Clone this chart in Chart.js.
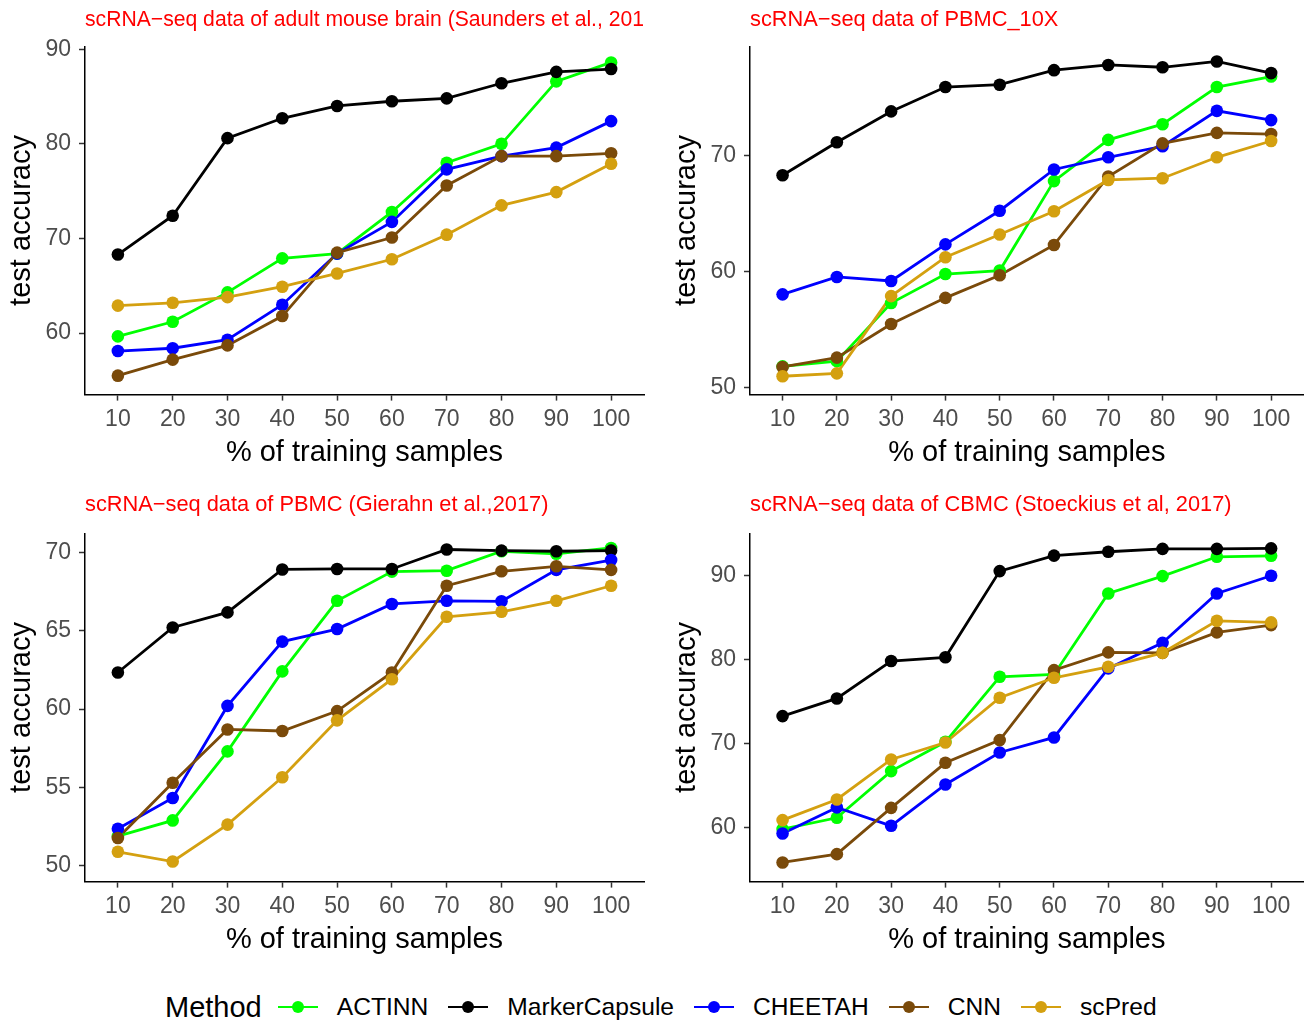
<!DOCTYPE html>
<html>
<head>
<meta charset="utf-8">
<script src="https://cdn.jsdelivr.net/npm/chart.js@4.4.1/dist/chart.umd.min.js"></script>
<style>
  body { margin: 0; background: #fff; width: 1310px; height: 1021px; position: relative; overflow: hidden;
         font-family: "Liberation Sans", Arial, sans-serif; }
  .panel { position: absolute; }
  .legend { position: absolute; left: 165px; top: 987px; height: 40px; display: flex; align-items: center; }
  .legend .head { font-size: 29px; color: #000; margin-right: 0; }
  .legend .key { position: relative; width: 40px; height: 40px; margin-left: 20px; }
  .legend .key.first { margin-left: 16px; }
  .legend .key .ln { position: absolute; left: 0; right: 0; top: 18.6px; height: 2.8px; }
  .legend .key .dot { position: absolute; left: 14px; top: 14px; width: 12px; height: 12px; border-radius: 50%; }
  .legend .lab { font-size: 24.6px; color: #000; margin-left: 19px; }
</style>
</head>
<body>
<div class="panel" style="left:0;top:0;width:655px;height:472px"><canvas id="p1"></canvas></div>
<div class="panel" style="left:665px;top:0;width:645px;height:472px"><canvas id="p2"></canvas></div>
<div class="panel" style="left:0;top:485px;width:655px;height:474px"><canvas id="p3"></canvas></div>
<div class="panel" style="left:665px;top:485px;width:645px;height:474px"><canvas id="p4"></canvas></div>
<div class="legend" id="legend"></div>
<script>
const xValues = [10, 20, 30, 40, 50, 60, 70, 80, 90, 100];
const methods = ["ACTINN", "MarkerCapsule", "CHEETAH", "CNN", "scPred"];
const colors = ["#00FF00", "#000000", "#0000FF", "#7A4A0A", "#D4A010"];

// adult mouse brain
const brainActinn = [59.65, 61.2, 64.3, 67.9, 68.4, 72.8, 78.0, 80.0, 86.6, 88.6];
const brainMarker = [68.3, 72.4, 80.6, 82.7, 84.0, 84.5, 84.8, 86.4, 87.6, 87.9];
const brainCheetah = [58.1, 58.4, 59.3, 63.0, 68.4, 71.75, 77.3, 78.7, 79.6, 82.4];
const brainCnn = [55.5, 57.2, 58.7, 61.8, 68.5, 70.1, 75.6, 78.7, 78.7, 79.0];
const brainScpred = [62.9, 63.2, 63.8, 64.9, 66.3, 67.8, 70.4, 73.5, 74.9, 77.9];
const brainTicks = [60, 70, 80, 90];

// PBMC_10X
const pbmc10xActinn = [51.85, 52.3, 57.3, 59.8, 60.1, 67.8, 71.35, 72.7, 75.9, 76.8];
const pbmc10xMarker = [68.3, 71.15, 73.8, 75.9, 76.1, 77.35, 77.8, 77.6, 78.1, 77.1];
const pbmc10xCheetah = [58.05, 59.55, 59.2, 62.35, 65.25, 68.8, 69.85, 70.8, 73.85, 73.05];
const pbmc10xCnn = [51.8, 52.6, 55.5, 57.75, 59.7, 62.3, 68.2, 71.05, 71.95, 71.85];
const pbmc10xScpred = [51.0, 51.25, 57.9, 61.25, 63.2, 65.2, 67.9, 68.05, 69.85, 71.25];
const pbmc10xTicks = [50, 60, 70];

// PBMC (Gierahn)
const pbmcActinn = [51.9, 52.9, 57.3, 62.4, 66.9, 68.76, 68.82, 70.06, 69.9, 70.27];
const pbmcMarker = [62.33, 65.2, 66.16, 68.9, 68.93, 68.93, 70.17, 70.1, 70.06, 70.1];
const pbmcCheetah = [52.37, 54.33, 60.2, 64.3, 65.1, 66.7, 66.9, 66.87, 68.87, 69.5];
const pbmcCnn = [51.78, 55.3, 58.7, 58.6, 59.87, 62.33, 67.86, 68.78, 69.1, 68.87];
const pbmcScpred = [50.9, 50.28, 52.63, 55.65, 59.28, 61.9, 65.88, 66.2, 66.9, 67.86];
const pbmcTicks = [50, 55, 60, 65, 70];

// CBMC
const cbmcActinn = [59.85, 61.2, 66.75, 70.24, 77.98, 78.26, 87.9, 89.96, 92.26, 92.38];
const cbmcMarker = [73.3, 75.4, 79.85, 80.3, 90.56, 92.4, 92.86, 93.2, 93.2, 93.26];
const cbmcCheetah = [59.33, 62.43, 60.24, 65.16, 68.97, 70.76, 78.98, 82.02, 87.9, 90.0];
const cbmcCnn = [55.88, 56.87, 62.38, 67.74, 70.44, 78.77, 80.88, 80.83, 83.26, 84.13];
const cbmcScpred = [60.92, 63.38, 68.14, 70.16, 75.48, 77.86, 79.17, 80.83, 84.64, 84.45];
const cbmcTicks = [60, 70, 80, 90];

const FONT = "'Liberation Sans', Arial, sans-serif";

const panels = [
  { id: "p1", title: "scRNA\u2212seq data of adult mouse brain (Saunders et al., 201",
    series: [brainActinn, brainMarker, brainCheetah, brainCnn, brainScpred],
    ticks: brainTicks, min: 53.5, max: 90.3, padRight: 11, titleBottom: 13.2 },
  { id: "p2", title: "scRNA\u2212seq data of PBMC_10X",
    series: [pbmc10xActinn, pbmc10xMarker, pbmc10xCheetah, pbmc10xCnn, pbmc10xScpred],
    ticks: pbmc10xTicks, min: 49.42, max: 79.4, padRight: 0, titleBottom: 13.2 },
  { id: "p3", title: "scRNA\u2212seq data of PBMC (Gierahn et al.,2017)",
    series: [pbmcActinn, pbmcMarker, pbmcCheetah, pbmcCnn, pbmcScpred],
    ticks: pbmcTicks, min: 49.0, max: 71.2, padRight: 11, titleBottom: 15.2 },
  { id: "p4", title: "scRNA\u2212seq data of CBMC (Stoeckius et al, 2017)",
    series: [cbmcActinn, cbmcMarker, cbmcCheetah, cbmcCnn, cbmcScpred],
    ticks: cbmcTicks, min: 53.6, max: 95.05, padRight: 0, titleBottom: 15.2 },
];

const makeDatasets = (series) => {
  const sets = [];
  series.forEach((vals, i) => {
    const pts = xValues.map((x, k) => ({ x: x, y: vals[k] }));
    // lines first (all methods), then points on top, like geom_line + geom_point
    sets.push({ label: methods[i], data: pts, borderColor: colors[i], borderWidth: 2.8,
                pointRadius: 0, tension: 0, order: 20 - i });
    sets.push({ label: methods[i] + " points", data: pts, showLine: false, pointRadius: 6.3,
                pointBorderWidth: 0, backgroundColor: colors[i], borderColor: colors[i], order: 10 - i });
  });
  return sets;
};

panels.forEach((p) => {
  new Chart(document.getElementById(p.id), {
    type: "line",
    data: { datasets: makeDatasets(p.series) },
    options: {
      responsive: true,
      maintainAspectRatio: false,
      animation: false,
      events: [],
      layout: { padding: { left: 0, right: p.padRight, top: 0, bottom: 0 } },
      plugins: {
        legend: { display: false },
        tooltip: { enabled: false },
        title: {
          display: true, text: p.title, align: "start", fullSize: false,
          color: "#FF0000", font: { family: FONT, size: 21.8, weight: "normal" },
          padding: { top: 7, bottom: p.titleBottom },
        },
      },
      scales: {
        x: {
          type: "linear", min: 4, max: 106, bounds: "data",
          afterBuildTicks: (s) => { s.ticks = xValues.map((v) => ({ value: v })); },
          afterFit: (s) => { s.height = 77.4; },
          border: { display: true, color: "#000", width: 1.5 },
          grid: { display: true, drawOnChartArea: false, drawTicks: true, tickLength: 6, color: "#333", tickWidth: 1.5 },
          ticks: { color: "#4D4D4D", font: { family: FONT, size: 23 }, padding: 5, maxRotation: 0, autoSkip: false },
          title: { display: true, text: "% of training samples", color: "#000",
                   font: { family: FONT, size: 29 }, padding: { top: 0, bottom: 2 } },
        },
        y: {
          type: "linear", min: p.min, max: p.max, bounds: "data",
          afterBuildTicks: (s) => { s.ticks = p.ticks.map((v) => ({ value: v })); },
          afterFit: (s) => { s.width = 85; },
          border: { display: true, color: "#000", width: 1.5 },
          grid: { display: true, drawOnChartArea: false, drawTicks: true, tickLength: 6, color: "#333", tickWidth: 1.5 },
          ticks: { color: "#4D4D4D", font: { family: FONT, size: 23 }, padding: 8 },
          title: { display: true, text: "test accuracy", color: "#000",
                   font: { family: FONT, size: 29 }, padding: { top: 4.6, bottom: 0 } },
        },
      },
    },
  });
});

// legend
const legend = document.getElementById("legend");
const head = document.createElement("span");
head.className = "head";
head.textContent = "Method";
legend.appendChild(head);
methods.forEach((m, i) => {
  const key = document.createElement("span");
  key.className = i === 0 ? "key first" : "key";
  key.innerHTML = `<span class="ln" style="background:${colors[i]}"></span><span class="dot" style="background:${colors[i]}"></span>`;
  legend.appendChild(key);
  const lab = document.createElement("span");
  lab.className = "lab";
  lab.textContent = m;
  legend.appendChild(lab);
});
</script>
</body>
</html>
